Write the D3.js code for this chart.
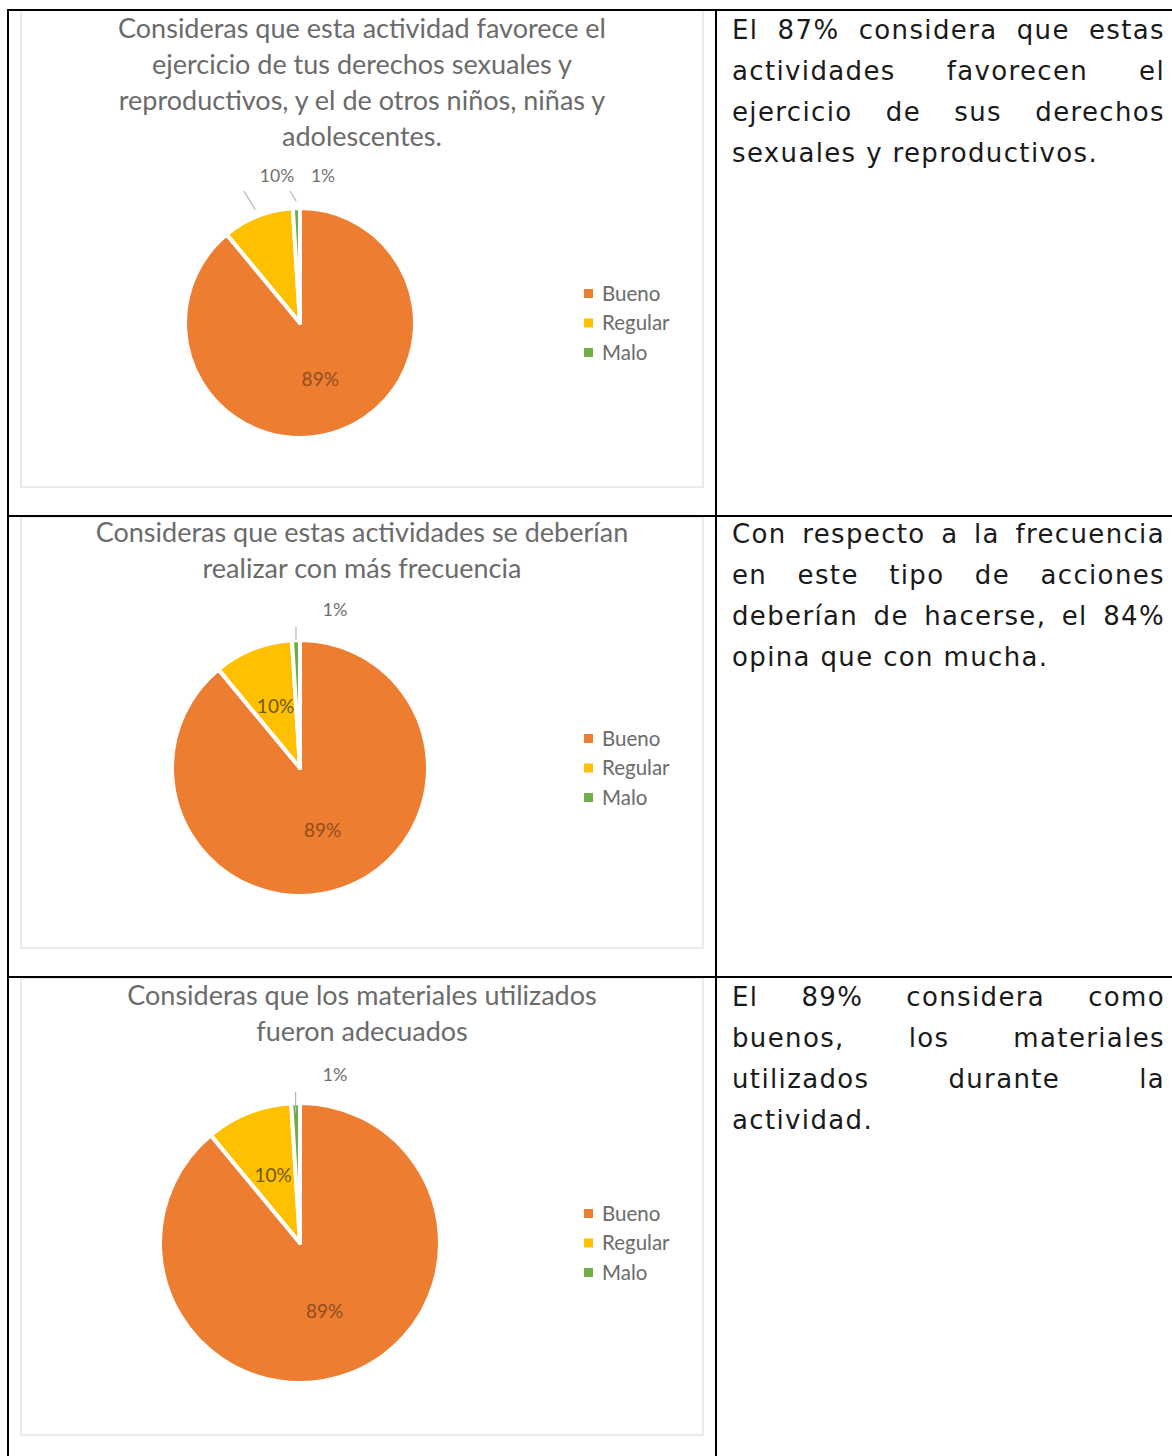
<!DOCTYPE html>
<html><head><meta charset="utf-8">
<script src="https://cdn.jsdelivr.net/npm/d3@7"></script>
<style>html,body{margin:0;padding:0;background:#fff;} svg{display:block}</style>
</head><body>
<svg id="c" width="1172" height="1456"></svg>
<script>
// ---------- data ----------
const categories = ["Bueno", "Regular", "Malo"];
const sliceColors = ["#ED7D31", "#FFC000", "#70AD47"];
const valuesChart1 = [89, 10, 1];
const valuesChart2 = [89, 10, 1];
const valuesChart3 = [89, 10, 1];
const titleChart1 = ["Consideras que esta actividad favorece el", "ejercicio de tus derechos sexuales y", "reproductivos, y el de otros niños, niñas y", "adolescentes."];
const titleChart2 = ["Consideras que estas actividades se deberían", "realizar con más frecuencia"];
const titleChart3 = ["Consideras que los materiales utilizados", "fueron adecuados"];
const commentRow1 = ["El 87% considera que estas", "actividades favorecen el", "ejercicio de sus derechos", "sexuales y reproductivos."];
const commentRow2 = ["Con respecto a la frecuencia", "en este tipo de acciones", "deberían de hacerse, el 84%", "opina que con mucha."];
const commentRow3 = ["El 89% considera como", "buenos, los materiales", "utilizados durante la", "actividad."];

// ---------- layout ----------
const svg = d3.select("#c");
const W = 1172, H = 1456;
const tableLeft = 8, colX = 716, rowLines = [10, 516, 977];
const textLeft = 732, textRight = 1165, lineH = 41;
const chartX0 = 21, chartX1 = 703, pieCx = 300;
const titleFont = "Lato, 'Open Sans', sans-serif";
const bodyFont = "'DejaVu Sans', 'Noto Sans', sans-serif";

const charts = [
  { values: valuesChart1, title: titleChart1, top: 10, bottom: 487, cy: 323, r: 115, titleBase: 38, outSize: 17.5,
    labels: [{ mode: "inside" }, { mode: "outside", dx: -23, dy: -147, lead: "corner" }, { mode: "outside", dx: 23, dy: -147, lead: "corner" }] },
  { values: valuesChart2, title: titleChart2, top: 517, bottom: 948, cy: 768, r: 128, titleBase: 542, outSize: 18,
    labels: [{ mode: "inside" }, { mode: "inside" }, { mode: "outside", dx: 35, dy: -158, lead: "vertical" }] },
  { values: valuesChart3, title: titleChart3, top: 978, bottom: 1435, cy: 1243, r: 140, titleBase: 1005, outSize: 18,
    labels: [{ mode: "inside" }, { mode: "inside" }, { mode: "outside", dx: 35, dy: -168, lead: "vertical" }] }
];
const comments = [
  { lines: commentRow1, base: 39 },
  { lines: commentRow2, base: 543 },
  { lines: commentRow3, base: 1006 }
];

function draw() {
  const probe = svg.append("text").attr("font-family", titleFont).attr("font-size", 20).text(titleChart1[0]);
  const titleSize = Math.min(27, 20 * 492 / probe.node().getComputedTextLength());
  probe.remove();

  const color = d3.scaleOrdinal().domain(categories).range(sliceColors);
  const pie = d3.pie().sort(null).value(d => d.v);

  charts.forEach(ch => {
    const g = svg.append("g");
    g.append("rect").attr("x", chartX0).attr("y", ch.top).attr("width", chartX1 - chartX0).attr("height", ch.bottom - ch.top)
      .attr("fill", "#fff").attr("stroke", "#e4e4e4").attr("stroke-width", 1.5);

    g.selectAll("text.title").data(ch.title).join("text").attr("class", "title")
      .attr("x", 362).attr("y", (d, i) => ch.titleBase + i * 36)
      .attr("text-anchor", "middle").attr("font-family", titleFont).attr("font-size", titleSize)
      .attr("fill", "#6b6b6b").text(d => d);

    const data = categories.map((c, i) => ({ c, v: ch.values[i] }));
    const arcs = pie(data);
    const arc = d3.arc().innerRadius(0).outerRadius(ch.r);
    const pg = g.append("g").attr("transform", `translate(${pieCx},${ch.cy})`);
    pg.selectAll("path").data(arcs).join("path").attr("d", arc)
      .attr("fill", d => color(d.data.c)).attr("stroke", "#fff").attr("stroke-width", 4).attr("stroke-linejoin", "round");

    arcs.forEach((a, i) => {
      const L = ch.labels[i];
      const txt = a.data.v + "%";
      if (L.mode === "inside") {
        const [x, y] = d3.arc().innerRadius(0).outerRadius(ch.r * 1.04).centroid(a);
        pg.append("text").attr("x", x).attr("y", y).attr("dy", "0.35em").attr("text-anchor", "middle")
          .attr("font-family", titleFont).attr("font-size", 19)
          .attr("fill", i === 0 ? "#8f4d1e" : "#6e5a12").text(txt);
      } else {
        const mid = (a.startAngle + a.endAngle) / 2;
        const px = Math.sin(mid) * ch.r, py = -Math.cos(mid) * ch.r;
        let sx, sy, ex = px, ey = py;
        if (L.lead === "corner") { sx = L.dx - 33; sy = L.dy + 15; ex = Math.sin(mid) * ch.r * 1.06; ey = -Math.cos(mid) * ch.r * 1.06; }
        else { sx = px; sy = L.dy + 17; ey = py + (ch.r > 135 ? 10 : 0); }
        pg.append("line").attr("x1", sx).attr("y1", sy).attr("x2", ex).attr("y2", ey)
          .attr("stroke", "#a9b7c8").attr("stroke-width", 1.2);
        pg.append("text").attr("x", L.dx).attr("y", L.dy).attr("dy", "0.35em").attr("text-anchor", "middle")
          .attr("font-family", titleFont).attr("font-size", ch.outSize).attr("fill", "#707070").text(txt);
      }
    });

    const lg = g.append("g").attr("transform", `translate(584,${ch.cy})`);
    const items = lg.selectAll("g").data(categories).join("g").attr("transform", (d, i) => `translate(0,${(i - 1) * 29.5})`);
    items.append("rect").attr("x", 0).attr("y", -4.5).attr("width", 9).attr("height", 9).attr("fill", d => color(d));
    items.append("text").attr("x", 18).attr("dy", "0.35em").attr("font-family", titleFont).attr("font-size", 20.5)
      .attr("fill", "#6b6b6b").text(d => d);
  });

  // ---------- justified comment text ----------
  const bodySize = 26;
  const meas = svg.append("text").attr("font-family", bodyFont).attr("font-size", bodySize);
  const mw = s => { meas.text(s); return meas.node().getComputedTextLength(); };
  const refLast = mw("sexuales y reproductivos.");
  const ls = Math.max(-1, Math.min(1.5, (366 - refLast) / "sexuales y reproductivos.".length));
  meas.attr("letter-spacing", ls);
  const spaceW = mw("a a") - mw("aa");

  comments.forEach(cm => {
    cm.lines.forEach((line, li) => {
      const words = line.split(" ");
      const widths = words.map(mw);
      const last = li === cm.lines.length - 1;
      const total = d3.sum(widths);
      const gap = (last || words.length < 2) ? spaceW : (textRight - textLeft - total) / (words.length - 1);
      let x = textLeft;
      const t = svg.append("text").attr("font-family", bodyFont).attr("font-size", bodySize)
        .attr("letter-spacing", ls).attr("fill", "#1a1a1a").attr("y", cm.base + li * lineH);
      words.forEach((w, wi) => {
        t.append("tspan").attr("x", x).text(w);
        x += widths[wi] + gap;
      });
    });
  });
  meas.remove();

  // ---------- table grid ----------
  const grid = svg.append("g").attr("stroke", "#000").attr("stroke-width", 2);
  rowLines.forEach(y => grid.append("line").attr("x1", tableLeft - 1).attr("x2", W).attr("y1", y).attr("y2", y));
  grid.append("line").attr("x1", tableLeft).attr("x2", tableLeft).attr("y1", rowLines[0] - 1).attr("y2", H);
  grid.append("line").attr("x1", colX).attr("x2", colX).attr("y1", rowLines[0] - 1).attr("y2", H);
}

if (document.fonts && document.fonts.load) {
  Promise.all([
    document.fonts.load("20px Lato"),
    document.fonts.load("26px 'DejaVu Sans'")
  ]).then(draw, draw);
} else {
  draw();
}
</script>
</body></html>
